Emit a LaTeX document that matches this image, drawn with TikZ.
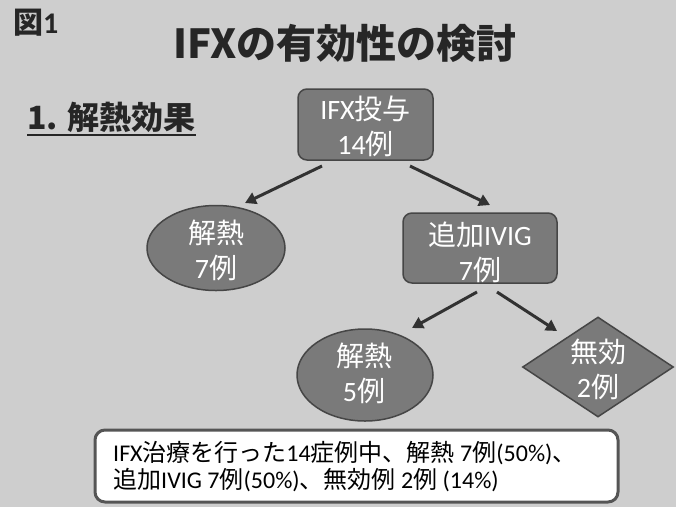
\documentclass[tikz,border=0pt]{standalone}
\usepackage{fontspec}
\setmainfont{Noto Sans CJK JP}
\newfontfamily\lat{Carlito}
\usetikzlibrary{shapes.geometric,arrows.meta}
\definecolor{bgc}{RGB}{206,206,206}
\definecolor{shapefill}{RGB}{122,122,122}
\definecolor{shapeline}{RGB}{70,70,70}
\definecolor{arrowc}{RGB}{50,50,50}
\definecolor{boxline}{RGB}{85,85,85}
\begin{document}
\begin{tikzpicture}[x=1pt,y=-1pt,
  greybox/.style={draw=shapeline, line width=1.5pt, fill=shapefill, rounded corners=9pt, inner sep=0pt},
  greyell/.style={ellipse, draw=shapeline, line width=1.5pt, fill=shapefill, inner sep=0pt},
  greydia/.style={diamond, draw=shapeline, line width=1.5pt, fill=shapefill, inner sep=0pt},
  wtxt/.style={text=white, align=center, font=\fontsize{28}{35}\selectfont, inner sep=0pt},
  flow/.style={draw=arrowc, line width=3pt, -{Triangle[length=11pt,width=12pt]}},
  note/.style={draw=boxline, line width=3pt, fill=white, rounded corners=10pt}
]
\useasboundingbox (0,0) rectangle (676,507);
\fill[bgc] (0,0) rectangle (676,507);

% headings
\node[anchor=west, inner sep=0pt, font=\fontsize{30}{32}\selectfont\bfseries, text=black!85] (fig) at (13,23) {図{\lat 1}};
\node[inner sep=0pt, font=\fontsize{40}{44}\selectfont\bfseries, text=black!85] (title) at (345,43) {IFXの有効性の検討};
\node[anchor=west, inner sep=0pt, font=\fontsize{32}{34}\selectfont\bfseries, text=black!85] (sec) at (27,117) {1. 解熱効果};
\draw[line width=2pt, black!85] ([yshift=-6pt]sec.base west) -- ([yshift=-6pt]sec.base east);

% flow shapes
\node[greybox, minimum width=135pt, minimum height=71pt] (ifx) at (365.5,124.5) {};
\node[wtxt] (ifxt) at (365.5,126.5) {{\lat IFX}投与\\{\lat 14}例};

\node[greyell, minimum width=138pt, minimum height=85pt] (fev1) at (216,248) {};
\node[wtxt] (fev1t) at (216,250) {解熱\\{\lat 7}例};

\node[greybox, minimum width=154pt, minimum height=70pt] (ivig) at (480,248) {};
\node[wtxt] (ivigt) at (480,252) {追加{\lat IVIG}\\{\lat 7}例};

\node[greyell, minimum width=136pt, minimum height=92pt] (fev2) at (365,375) {};
\node[wtxt] (fev2t) at (364,373) {解熱\\{\lat 5}例};

\node[greydia, minimum width=151pt, minimum height=100pt] (noeff) at (598,367) {};
\node[wtxt] (noefft) at (598,369) {無効\\{\lat 2}例};

% connectors
\coordinate (a1s) at (322,166); \coordinate (a1e) at (245,203);
\coordinate (a2s) at (410,166); \coordinate (a2e) at (490,205);
\coordinate (a3s) at (477,292); \coordinate (a3e) at (412,328);
\coordinate (a4s) at (497,292); \coordinate (a4e) at (557,331);
\draw[flow] (a1s) -- (a1e);
\draw[flow] (a2s) -- (a2e);
\draw[flow] (a3s) -- (a3e);
\draw[flow] (a4s) -- (a4e);

% summary box
\node[note, minimum width=523pt, minimum height=72pt] (sum) at (356.5,466) {};
\node[anchor=west, align=left, inner sep=0pt, font=\fontsize{24}{27}\selectfont] (sumt) at (113,467)
  {{\lat IFX}治療を行った{\lat 14}症例中、解熱{\lat\ 7}例{\lat (50\%)}、\\追加{\lat IVIG 7}例{\lat (50\%)}、無効例{\lat\ 2}例{\lat\ (14\%)}};
\end{tikzpicture}
\end{document}
